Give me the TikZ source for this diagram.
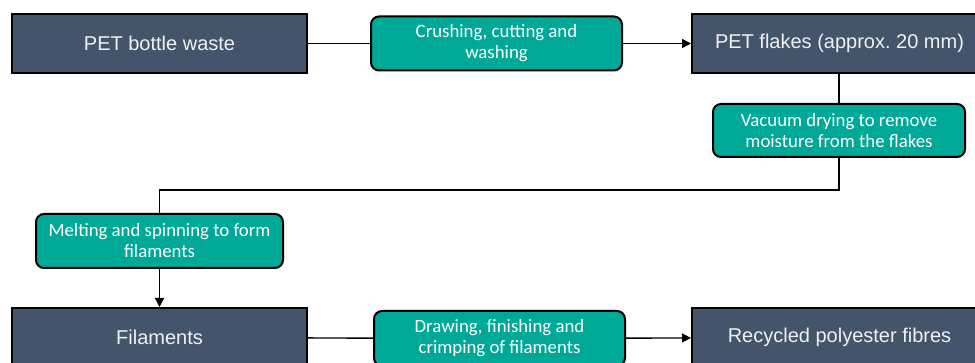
\documentclass[tikz,border=0pt]{standalone}
\usepackage{fontspec}
\setmainfont{Liberation Sans}
\newfontfamily\stepfont{Carlito}
\usetikzlibrary{arrows.meta}

\definecolor{slate}{RGB}{68,84,106}
\definecolor{teal}{RGB}{0,168,152}

\begin{document}
\begin{tikzpicture}[x=1pt, y=-1pt, line width=1.4pt, >={Triangle[length=9pt,width=9pt]},
    main/.style = {draw=black, line width=2pt, fill=slate, text=white!92!slate, minimum width=295pt, minimum height=59pt, font=\fontsize{20}{24}\selectfont},
    proc/.style = {draw=black, line width=2pt, fill=teal, text=white, rounded corners=8pt, align=center, minimum height=54pt, inner sep=2pt, font=\stepfont\fontsize{18.8}{21}\selectfont}]
        \useasboundingbox (0,0) rectangle (975,363);

        \node[main] (waste) at (159.5,43.5) {PET bottle waste};
        \node[proc, minimum width=251pt] (crush) at (496.5,43.5) {Crushing, cutting and\\washing};
        \node[main] (flakes) at (839.5,43.5) {PET flakes (approx.\ 20 mm)};
        \node[proc, minimum width=252pt, minimum height=53pt] (dry) at (839,130.5) {Vacuum drying to remove\\moisture from the flakes};
        \node[proc, minimum width=247pt] (melt) at (159.5,241) {Melting and spinning to form\\filaments};
        \node[main] (fil) at (159.5,337.5) {Filaments};
        \node[proc, minimum width=251pt, minimum height=55pt] (draw) at (499.5,338.5) {Drawing, finishing and\\crimping of filaments};
        \node[main] (fibres) at (839.5,337.5) {Recycled polyester fibres};

        \path (waste) edge (crush);
        \path[->] (crush) edge (flakes);
        \path (flakes.south -| dry.north) edge (dry);
        \draw (dry.south) -- (839,190) -| (melt.north);
        \path[->] (melt) edge (fil);

        \path (fil) edge (draw);
        \path[->] (draw) edge (fibres);

    \end{tikzpicture}
\end{document}
